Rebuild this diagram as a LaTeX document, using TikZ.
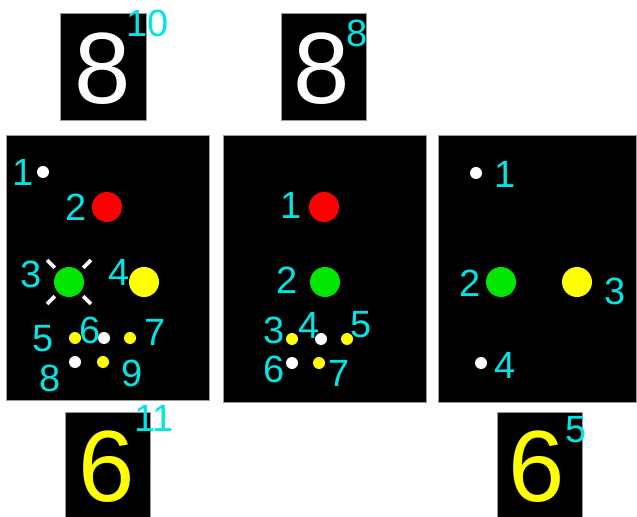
\documentclass[tikz,border=0pt]{standalone}
\usepackage{fontspec}
\setmainfont{Liberation Sans}
\usepackage{xcolor}
\usepackage{tikz}
\definecolor{ciano}{HTML}{00E5E5}
\definecolor{rosso}{HTML}{FF0000}
\definecolor{verde}{HTML}{00E600}
\definecolor{giallo}{HTML}{FFFF00}
\definecolor{bordo}{HTML}{9A9A9A}

\begin{document}
\begin{tikzpicture}[x=0.025cm, y=-0.025cm,
    pannello/.style={fill=black, draw=bordo, line width=0.6pt},
    cifra/.style={inner sep=0pt, font=\fontsize{72}{72}\selectfont},
    num/.style={inner sep=0pt, text=ciano, font=\fontsize{27}{27}\selectfont},
    grande/.style={circle, inner sep=0pt, minimum size=0.75cm},
    piccolo/.style={circle, fill=white, inner sep=0pt, minimum size=0.3cm},
    tacca/.style={white, line width=2.6pt}]
    \useasboundingbox (0,0) rectangle (637,517);

    % cartelli in alto e in basso
    \draw[pannello] (60,13) rectangle (146,120);
    \node[cifra, text=white] (otto1) at (103,69) {8};
    \node[num] (sup1) at (148,23) {10};
    \draw[pannello] (281,13) rectangle (366,120);
    \node[cifra, text=white] (otto2) at (322,69) {8};
    \node[num] (sup2) at (357,33) {8};
    \draw[pannello] (65,412) rectangle (150,517);
    \node[cifra, text=giallo] (sei1) at (107,467) {6};
    \node[num] (sup3) at (154,418) {11};
    \draw[pannello] (497,412) rectangle (582,517);
    \node[cifra, text=giallo] (sei2) at (537,467) {6};
    \node[num] (sup4) at (576,430) {5};

    % primo pannello
    \draw[pannello] (6,135) rectangle (209,400);
    \node[piccolo] (a1) at (43,172) {};
    \node[num] at (23,172) {1};
    \node[grande, fill=rosso] (a2) at (107,207) {};
    \node[num] at (76,207) {2};
    \node[grande, fill=verde] (a3) at (69,282) {};
    \node[num] at (31,274) {3};
    \foreach \ang in {45,135,225,315}
        \draw[tacca] ([shift={(\ang:20)}]a3.center) -- ([shift={(\ang:31)}]a3.center);
    \node[grande, fill=giallo] (a4) at (144,282) {};
    \node[num] at (119,272) {4};
    \node[piccolo, fill=giallo] (a5) at (75,338) {};
    \node[num] at (43,339) {5};
    \node[piccolo] (a6) at (104,338) {};
    \node[num] at (90,330) {6};
    \node[piccolo, fill=giallo] (a7) at (130,338) {};
    \node[num] at (155,332) {7};
    \node[piccolo] (a8) at (75,362) {};
    \node[num] at (50,378) {8};
    \node[piccolo, fill=giallo] (a9) at (103,362) {};
    \node[num] at (132,373) {9};

    % secondo pannello
    \draw[pannello] (223,135) rectangle (426,402);
    \node[grande, fill=rosso] (b1) at (324,207) {};
    \node[num] at (291,205) {1};
    \node[grande, fill=verde] (b2) at (325,282) {};
    \node[num] at (287,280) {2};
    \node[piccolo, fill=giallo] (b3) at (292,339) {};
    \node[num] at (274,330) {3};
    \node[piccolo] (b4) at (321,339) {};
    \node[num] at (309,325) {4};
    \node[piccolo, fill=giallo] (b5) at (347,339) {};
    \node[num] at (361,325) {5};
    \node[piccolo] (b6) at (292,363) {};
    \node[num] at (274,369) {6};
    \node[piccolo, fill=giallo] (b7) at (319,363) {};
    \node[num] at (339,373) {7};

    % terzo pannello
    \draw[pannello] (438,135) rectangle (636,402);
    \node[piccolo] (c1) at (476,173) {};
    \node[num] at (505,174) {1};
    \node[grande, fill=verde] (c2) at (501,282) {};
    \node[num] at (470,283) {2};
    \node[grande, fill=giallo] (c3) at (577,282) {};
    \node[num] at (615,291) {3};
    \node[piccolo] (c4) at (481,363) {};
    \node[num] at (505,365) {4};
\end{tikzpicture}
\end{document}
